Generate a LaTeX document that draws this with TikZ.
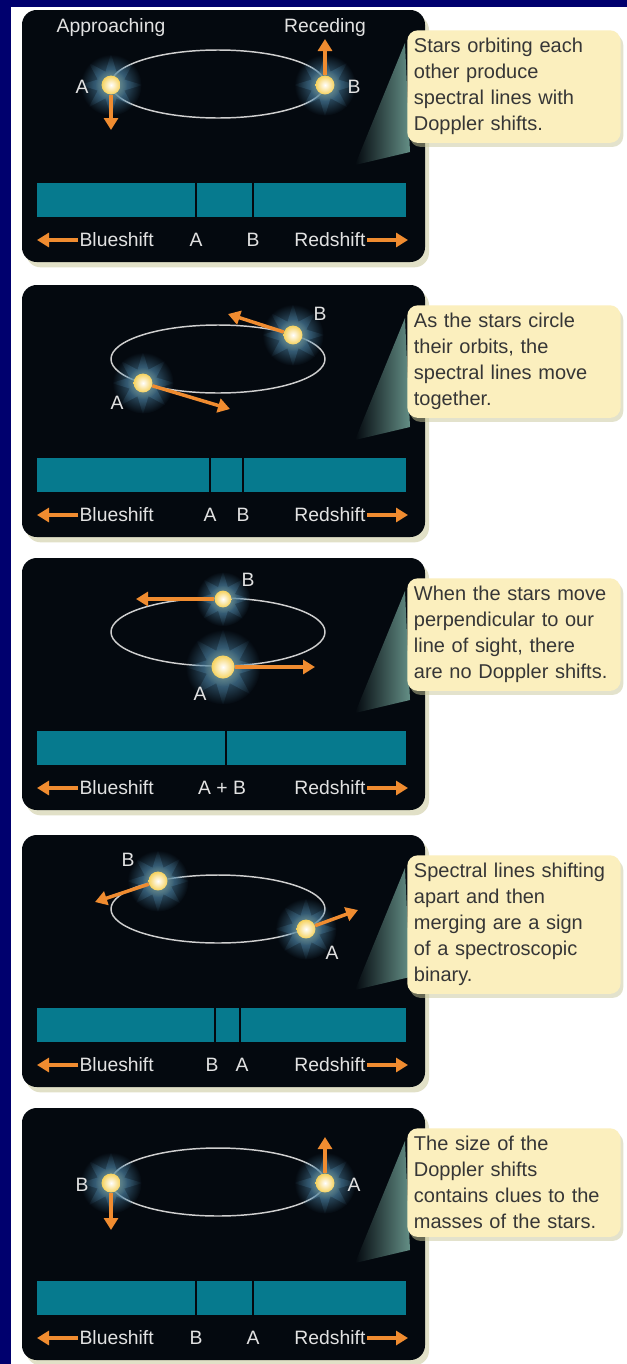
\documentclass[tikz,border=0pt]{standalone}
\usepackage{fontspec}
\setmainfont{Liberation Sans}
\usetikzlibrary{arrows.meta,shapes.geometric,fadings,shadows}

\definecolor{edgenavy}{HTML}{00006E}
\definecolor{panelbg}{HTML}{04090F}
\definecolor{barteal}{HTML}{067A8E}
\definecolor{velorange}{HTML}{F08C30}
\definecolor{notebg}{HTML}{FBEFBE}
\definecolor{notetext}{HTML}{363636}
\definecolor{glowblue}{HTML}{4E86A8}
\definecolor{coreyellow}{HTML}{F6D25E}
\definecolor{orbitgray}{HTML}{CFCFCF}
\definecolor{lblgray}{HTML}{E2E2E2}
\definecolor{beam}{HTML}{648F86}
\definecolor{shadowkhaki}{HTML}{C9C79A}

\tikzfading[name=fuzz, inner color=transparent!0, outer color=transparent!100]

\tikzset{
  panel/.style={fill=panelbg, rounded corners=11pt,
    drop shadow={shadow xshift=3pt, shadow yshift=-4pt, fill=shadowkhaki, opacity=.55}},
  spectrum/.style={fill=barteal},
  gap/.style={draw=panelbg, line width=1.5pt},
  orbit/.style={draw=orbitgray, line width=1.1pt},
  lbl/.style={text=lblgray, inner sep=1pt, font=\fontsize{14.5}{17}\selectfont},
  vel/.style={draw=velorange, line width=2.6pt, -{Triangle[width=10.5pt,length=9pt]}},
  note/.style={fill=notebg, rounded corners=8pt, text=notetext, align=left,
    text width=150pt, inner xsep=5pt, inner ysep=6pt,
    font=\fontsize{15}{19.5}\selectfont,
    drop shadow={shadow xshift=2pt, shadow yshift=-3pt, fill=shadowkhaki, opacity=.5}},
  spikes/.style={star, star points=8, star point ratio=2.2, inner sep=0pt,
    fill=glowblue, opacity=.7, path fading=fuzz},
  core/.style={circle, inner sep=0pt, inner color=white, outer color=coreyellow},
}

% glowing star: name, x, y, core radius
\newcommand\glowstar[4]{%
  \fill[glowblue, path fading=fuzz] (#2,#3) circle ({3.4*#4});
  \node[spikes, minimum size={7*#4*0.75pt}] (#1g) at (#2,#3) {};
  \fill[coreyellow, opacity=.35, path fading=fuzz] (#2,#3) circle ({1.8*#4});
  \node[core, minimum size={2.1*#4*0.75pt}] (#1) at (#2,#3) {};
}

\begin{document}
\begin{tikzpicture}[x=0.75pt,y=-0.75pt]
\useasboundingbox (0,0) rectangle (627,1364);
\fill[white] (0,0) rectangle (627,1364);
\fill[edgenavy] (0,0) rectangle (627,7);
\fill[edgenavy] (0,0) rectangle (11,1364);

% the five panels with their spectra and notes
\foreach \n/\t/\txt in {%
  1/10/{Stars orbiting each\\other produce\\spectral lines with\\Doppler shifts.},
  2/285/{As the stars circle\\their orbits, the\\spectral lines move\\together.},
  3/558/{When the stars move\\perpendicular to our\\line of sight, there\\are no Doppler shifts.},
  4/835/{Spectral lines shifting\\apart and then\\merging are a sign\\of a spectroscopic\\binary.},
  5/1108/{The size of the\\Doppler shifts\\contains clues to the\\masses of the stars.}}{
  \begin{scope}[shift={(0,\t)}]
    \path[panel] (22,0) rectangle (425,252);
    \shade[left color=panelbg, right color=beam] (355,155) -- (405,33) -- (410,142) -- cycle;
    \fill[spectrum] (37,173) rectangle (406,207);
    \draw[orbit] (218,74) ellipse [x radius=107, y radius=34];
    \node[lbl, anchor=west] (blue\n) at (78,230) {Blueshift};
    \node[lbl, anchor=east] (red\n) at (367,230) {Redshift};
    \coordinate (bt\n) at (37,230);
    \coordinate (rt\n) at (408,230);
    \draw[vel] (blue\n.west) -- (bt\n);
    \draw[vel] (red\n.east) -- (rt\n);
    \node[note, anchor=north west] (note\n) at (407,20) {\txt};
  \end{scope}
}

% 1: A approaching, B receding
\glowstar{A1}{111}{85}{9}
\glowstar{B1}{325}{85}{9}
\coordinate (vA1) at (111,130);
\coordinate (vB1) at (325,39);
\draw[vel] (A1) -- (vA1);
\draw[vel] (B1) -- (vB1);
\node[lbl] (appr) at (111,27) {Approaching};
\node[lbl] (rece) at (325,27) {Receding};
\node[lbl] (nA1) at (82,87) {A};
\node[lbl] (nB1) at (354,87) {B};
\draw[gap] (196,183) -- (196,217);
\draw[gap] (253,183) -- (253,217);
\node[lbl] (sA1) at (196,240) {A};
\node[lbl] (sB1) at (253,240) {B};

% 2
\glowstar{A2}{143}{383}{9}
\glowstar{B2}{293}{335}{9}
\coordinate (vA2) at (230,409);
\coordinate (vB2) at (228,314);
\draw[vel] (A2) -- (vA2);
\draw[vel] (B2) -- (vB2);
\node[lbl] (nA2) at (117,403) {A};
\node[lbl] (nB2) at (320,314) {B};
\draw[gap] (210,458) -- (210,492);
\draw[gap] (243,458) -- (243,492);
\node[lbl] (sA2) at (210,515) {A};
\node[lbl] (sB2) at (243,515) {B};

% 3: across the line of sight
\glowstar{B3}{223}{599}{8}
\glowstar{A3}{223}{667}{11}
\coordinate (vB3) at (136,599);
\coordinate (vA3) at (315,667);
\draw[vel] (B3) -- (vB3);
\draw[vel] (A3) -- (vA3);
\node[lbl] (nB3) at (248,580) {B};
\node[lbl] (nA3) at (200,694) {A};
\draw[gap] (226,731) -- (226,765);
\node[lbl] (sAB3) at (222,788) {A + B};

% 4
\glowstar{B4}{158}{881}{9}
\glowstar{A4}{306}{929}{9}
\coordinate (vB4) at (95,902);
\coordinate (vA4) at (358,910);
\draw[vel] (B4) -- (vB4);
\draw[vel] (A4) -- (vA4);
\node[lbl] (nB4) at (128,860) {B};
\node[lbl] (nA4) at (332,953) {A};
\draw[gap] (215,1008) -- (215,1042);
\draw[gap] (240,1008) -- (240,1042);
\node[lbl] (sB4) at (212,1065) {B};
\node[lbl] (sA4) at (242,1065) {A};

% 5: roles swapped
\glowstar{B5}{111}{1183}{9}
\glowstar{A5}{325}{1183}{9}
\coordinate (vB5) at (111,1230);
\coordinate (vA5) at (325,1137);
\draw[vel] (B5) -- (vB5);
\draw[vel] (A5) -- (vA5);
\node[lbl] (nB5) at (82,1185) {B};
\node[lbl] (nA5) at (354,1185) {A};
\draw[gap] (196,1281) -- (196,1315);
\draw[gap] (253,1281) -- (253,1315);
\node[lbl] (sB5) at (196,1338) {B};
\node[lbl] (sA5) at (253,1338) {A};
\end{tikzpicture}
\end{document}
